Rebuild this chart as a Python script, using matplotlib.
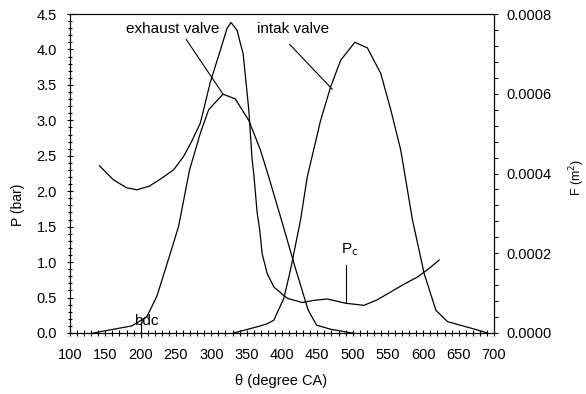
import matplotlib.pyplot as plt
from matplotlib.ticker import MultipleLocator, FormatStrFormatter

plt.rcParams['font.family'] = ['Liberation Sans', 'DejaVu Sans']
plt.rcParams['font.size'] = 10.5

# cylinder pressure (left axis, bar)
theta_p = [141.6, 161.5, 180, 194.6, 212, 227.7, 246.5, 260.7, 272, 284.4, 298.6, 312.8,
           322.3, 327.9, 336.4, 341, 345, 353, 357.7, 360, 364.8, 368.5, 371.9, 379,
           388.4, 407.4, 428.6, 445, 464, 490, 516, 535, 554, 573, 591.8, 610.6, 622.4]
p_bar = [2.36, 2.16, 2.05, 2.02, 2.07, 2.17, 2.30, 2.49, 2.70, 2.96, 3.54, 3.99,
         4.30, 4.38, 4.27, 4.09, 3.94, 3.15, 2.45, 2.25, 1.70, 1.45, 1.12, 0.84,
         0.65, 0.49, 0.43, 0.46, 0.48, 0.42, 0.39, 0.47, 0.58, 0.69, 0.79, 0.93, 1.03]

# exhaust valve flow area (right axis, m^2)
theta_ex = [133, 187.5, 208.8, 223, 241.8, 253.6, 269.2, 284.4, 296.2, 316.5, 334, 353,
            369.5, 381.3, 399.3, 418.2, 437.1, 449, 470, 499.6]
f_ex = [0.0, 0.0000178, 0.0000409, 0.0000924, 0.000199, 0.000267, 0.000409, 0.000501,
        0.000560, 0.000599, 0.000587, 0.000533, 0.000459, 0.000391, 0.000283, 0.000167,
        0.0000569, 0.0000196, 0.0000089, 0.0]

# intake valve flow area (right axis, m^2)
theta_in = [331.7, 369.5, 379, 388.4, 402.6, 412, 426.2, 435.7, 454.6, 468.8, 483, 503,
            520.8, 539.7, 553.9, 568, 584.7, 601.2, 617.8, 634.3, 667, 690.9]
f_in = [0.0, 0.0000178, 0.0000231, 0.000032, 0.0000871, 0.000158, 0.000283, 0.000391,
        0.000533, 0.000617, 0.000684, 0.000729, 0.000715, 0.000651, 0.000560, 0.000459,
        0.000283, 0.000149, 0.0000569, 0.0000284, 0.0000124, 0.0]

bdc = 200

fig = plt.figure(figsize=(5.86, 3.94), dpi=100)
ax = fig.add_axes([70 / 586, 1 - 333 / 394, 424 / 586, 319 / 394])
ax2 = ax.twinx()

ax.plot(theta_p, p_bar, color='black', lw=0.9)
ax2.plot(theta_ex, f_ex, color='black', lw=0.9)
ax2.plot(theta_in, f_in, color='black', lw=0.9)

ax.set_xlim(100, 700)
ax.set_ylim(0, 4.5)
ax2.set_ylim(0, 0.0008)

# labels with leader lines
ax.plot([264.5, 316.5], [4.14, 3.37], color='black', lw=0.8)
ax.text(244.7, 4.29, 'exhaust valve', ha='center', va='center', fontsize=11)
ax.plot([411, 471], [4.07, 3.44], color='black', lw=0.8)
ax.text(416, 4.29, 'intak valve', ha='center', va='center', fontsize=11)
ax.plot([490, 490], [0.96, 0.42], color='black', lw=0.8)
ax.text(483, 1.17, 'P$_{\\rm c}$', ha='left', va='center', fontsize=11)
ax.text(207.8, 0.17, 'bdc', ha='center', va='center', fontsize=11)
ax.plot([bdc, bdc], [-0.05, 0.12], color='black', lw=0.8, clip_on=False)

# ticks
ax.xaxis.set_major_locator(MultipleLocator(50))
ax.xaxis.set_minor_locator(MultipleLocator(10))
ax.yaxis.set_major_locator(MultipleLocator(0.5))
ax.yaxis.set_minor_locator(MultipleLocator(0.1))
ax.yaxis.set_major_formatter(FormatStrFormatter('%.1f'))
ax.tick_params(axis='x', which='both', direction='inout', length=4, width=0.8, pad=9)
ax.tick_params(axis='y', which='major', direction='inout', length=5, width=0.8, pad=7)
ax.tick_params(axis='y', which='minor', direction='inout', length=3, width=0.8)

ax2.yaxis.set_major_locator(MultipleLocator(0.0002))
ax2.yaxis.set_minor_locator(MultipleLocator(0.00004))
ax2.yaxis.set_major_formatter(FormatStrFormatter('%.4f'))
ax2.tick_params(axis='y', which='both', direction='out', length=3, width=0.8, pad=6)

for a in (ax, ax2):
    for s in a.spines.values():
        s.set_linewidth(0.8)

# axis titles
fig.text(281 / 586, 1 - 381 / 394, 'θ (degree CA)', ha='center', va='center')
fig.text(18 / 586, 1 - 205 / 394, 'P (bar)', ha='center', va='center',
         rotation=90, fontsize=10)
fig.text(577 / 586, 1 - 177 / 394, 'F (m$^2$)', ha='center', va='center',
         rotation=90, fontsize=9)

fig.savefig('out.png', dpi=100)
